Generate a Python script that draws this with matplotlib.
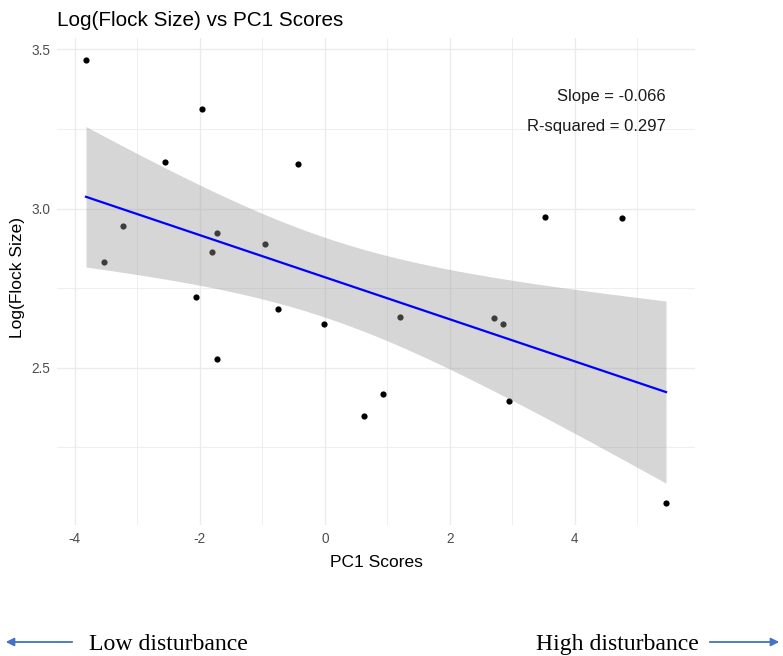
import numpy as np
import matplotlib
matplotlib.use("Agg")
import matplotlib.pyplot as plt
from matplotlib.ticker import MultipleLocator

# PC1 scores and log(flock size)
pc1 = [-3.82, -1.96, -2.55, -0.43, -3.53, -3.235, -1.73, -1.80, -0.95, -2.06, -0.744,
       -0.02, -1.73, 0.93, 0.62, 1.21, 2.70, 2.845, 2.94, 5.46, 3.53, 4.76]
log_flock = [3.466, 3.312, 3.145, 3.141, 2.832, 2.945, 2.924, 2.864, 2.889, 2.722, 2.685,
             2.638, 2.529, 2.419, 2.350, 2.660, 2.656, 2.638, 2.397, 2.076, 2.973, 2.970]

x_ticks = [-4, -2, 0, 2, 4]
y_ticks = [2.5, 3.0, 3.5]
slope_label = "Slope = -0.066"
r2_label = "R-squared = 0.297"

plt.rcParams["axes.unicode_minus"] = False

SANS = ["Liberation Sans", "DejaVu Sans"]
SERIF = ["Liberation Serif", "DejaVu Serif"]
GRID = "#EBEBEB"

x = np.array(pc1)
y = np.array(log_flock)

# linear fit with 95% confidence band (like geom_smooth(method="lm"))
n = len(x)
b1, b0 = np.polyfit(x, y, 1)
resid = y - (b0 + b1 * x)
s = np.sqrt(np.sum(resid ** 2) / (n - 2))
sxx = np.sum((x - x.mean()) ** 2)
t_crit = 2.086  # t(0.975, df=20)
xs = np.linspace(x.min(), x.max(), 80)
fit = b0 + b1 * xs
se = s * np.sqrt(1.0 / n + (xs - x.mean()) ** 2 / sxx)

fig = plt.figure(figsize=(7.83, 6.56), dpi=100)
ax = fig.add_axes([57 / 783, 1 - 525 / 656, 638 / 783, 487 / 656])

# points first so the ribbon greys them out like ggplot
ax.scatter(x, y, s=20, color="black", zorder=2, linewidths=0)
ax.fill_between(xs, fit - t_crit * se, fit + t_crit * se, color="#999999", alpha=0.4,
                linewidth=0, zorder=3)
ax.plot(xs, fit, color="#0000FF", linewidth=1.6, zorder=4)

xr = x.max() - x.min()
yr = y.max() - y.min()
ax.set_xlim(x.min() - 0.05 * xr, x.max() + 0.05 * xr)
ax.set_ylim(y.min() - 0.05 * yr, y.max() + 0.05 * yr)

ax.set_xticks(x_ticks)
ax.set_xticklabels([str(v) for v in x_ticks])
ax.set_yticks(y_ticks)
ax.set_yticklabels([f"{v:.1f}" for v in y_ticks])
ax.xaxis.set_minor_locator(MultipleLocator(1))
ax.yaxis.set_minor_locator(MultipleLocator(0.25))
ax.grid(True, which="major", color=GRID, linewidth=1.0, zorder=0)
ax.grid(True, which="minor", color=GRID, linewidth=0.6, zorder=0)
ax.set_axisbelow(True)
for sp in ax.spines.values():
    sp.set_visible(False)
ax.tick_params(which="both", length=0, labelsize=9.8, labelcolor="#4D4D4D", pad=5)
for lab in ax.get_xticklabels() + ax.get_yticklabels():
    lab.set_family(SANS)

ax.text(x.max(), 3.352, slope_label, ha="right", va="center", fontsize=12,
        family=SANS, color="#1A1A1A")
ax.text(x.max(), 3.258, r2_label, ha="right", va="center", fontsize=12,
        family=SANS, color="#1A1A1A")

fig.text(57 / 783, 1 - 26 / 656, "Log(Flock Size) vs PC1 Scores", ha="left", va="baseline",
         fontsize=14.9, family=SANS, color="black")
fig.text(376 / 783, 1 - 567 / 656, "PC1 Scores", ha="center", va="baseline",
         fontsize=12.5, family=SANS, color="black")
fig.text(18 / 783, 1 - 277 / 656, "Log(Flock Size)", ha="center", va="center", rotation=90,
         fontsize=12.5, family=SANS, color="black")

# disturbance direction arrows below the plot
arrow_y = 1 - 642 / 656
arrow_kw = dict(arrowstyle="-|>", color="#4472C4", lw=1.3, mutation_scale=12)
fig.patches.append(matplotlib.patches.FancyArrowPatch((75 / 783, arrow_y), (3 / 783, arrow_y),
                                                      transform=fig.transFigure, **arrow_kw))
fig.patches.append(matplotlib.patches.FancyArrowPatch((707 / 783, arrow_y), (782 / 783, arrow_y),
                                                      transform=fig.transFigure, **arrow_kw))
fig.text(89 / 783, 1 - 650 / 656, "Low disturbance", ha="left", va="baseline",
         fontsize=17.1, family=SERIF, color="black")
fig.text(699 / 783, 1 - 650 / 656, "High disturbance", ha="right", va="baseline",
         fontsize=17.1, family=SERIF, color="black")

fig.savefig("out.png", dpi=100, facecolor="white")
